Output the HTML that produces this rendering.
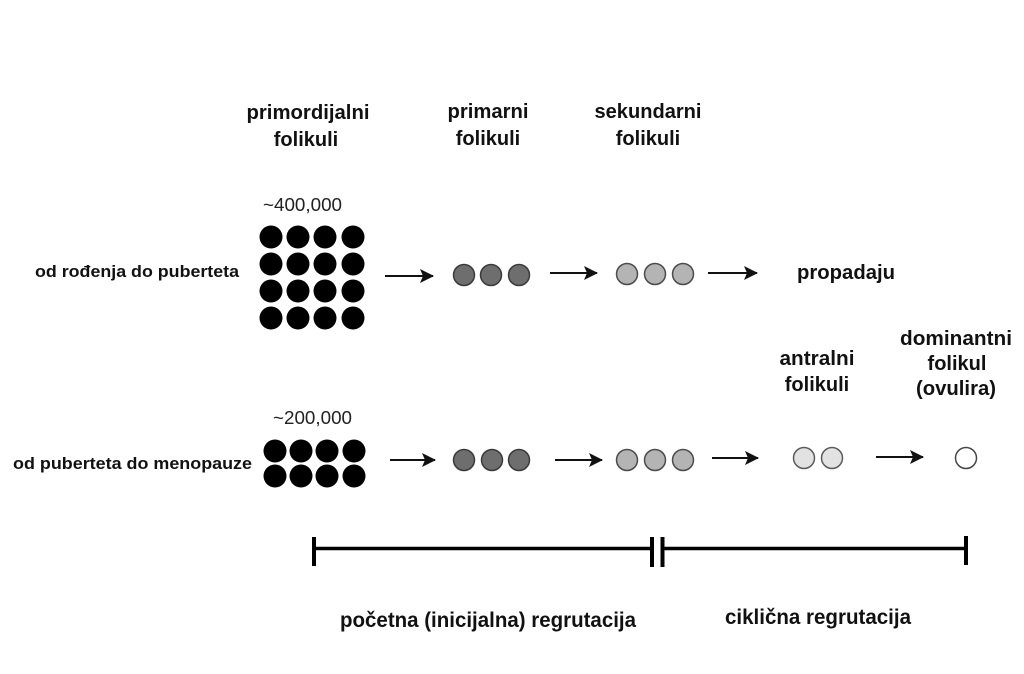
<!DOCTYPE html>
<html>
<head>
<meta charset="utf-8">
<style>
  html, body { margin: 0; padding: 0; background: #ffffff; }
  body { width: 1024px; height: 674px; overflow: hidden; }
  svg { display: block; }
  .b { font-family: "Liberation Sans", "DejaVu Sans", sans-serif; font-weight: 700; fill: #111; }
  .r { font-family: "Liberation Sans", "DejaVu Sans", sans-serif; font-weight: 400; fill: #222; }
</style>
</head>
<body>
<svg width="1024" height="674" viewBox="0 0 1024 674" xmlns="http://www.w3.org/2000/svg">
  <defs>
    <marker id="ah" viewBox="0 0 14 14" refX="13" refY="7" markerWidth="14" markerHeight="14" markerUnits="userSpaceOnUse" orient="auto">
      <path d="M0,0 L14,7 L0,14 L3,7 Z" fill="#111"/>
    </marker>
  </defs>

  <!-- top headings -->
  <text class="b" font-size="20" text-anchor="middle" x="308" y="119" textLength="123" lengthAdjust="spacingAndGlyphs">primordijalni</text>
  <text class="b" font-size="20" text-anchor="middle" x="306" y="146">folikuli</text>
  <text class="b" font-size="20" text-anchor="middle" x="488" y="118" textLength="81" lengthAdjust="spacingAndGlyphs">primarni</text>
  <text class="b" font-size="20" text-anchor="middle" x="488" y="145">folikuli</text>
  <text class="b" font-size="20" text-anchor="middle" x="648" y="118" textLength="107" lengthAdjust="spacingAndGlyphs">sekundarni</text>
  <text class="b" font-size="20" text-anchor="middle" x="648" y="145">folikuli</text>

  <!-- row 1 -->
  <text class="r" font-size="18" x="263" y="211" textLength="79" lengthAdjust="spacingAndGlyphs">~400,000</text>
  <text class="b" font-size="17" x="35" y="277" textLength="204" lengthAdjust="spacingAndGlyphs">od rođenja do puberteta</text>

  <g fill="#000">
    <circle cx="271" cy="237" r="11.5"/><circle cx="298" cy="237" r="11.5"/><circle cx="325" cy="237" r="11.5"/><circle cx="353" cy="237" r="11.5"/>
    <circle cx="271" cy="264" r="11.5"/><circle cx="298" cy="264" r="11.5"/><circle cx="325" cy="264" r="11.5"/><circle cx="353" cy="264" r="11.5"/>
    <circle cx="271" cy="291" r="11.5"/><circle cx="298" cy="291" r="11.5"/><circle cx="325" cy="291" r="11.5"/><circle cx="353" cy="291" r="11.5"/>
    <circle cx="271" cy="318" r="11.5"/><circle cx="298" cy="318" r="11.5"/><circle cx="325" cy="318" r="11.5"/><circle cx="353" cy="318" r="11.5"/>
  </g>

  <line x1="385" y1="276" x2="433" y2="276" stroke="#111" stroke-width="2" marker-end="url(#ah)"/>
  <g fill="#6e6e6e" stroke="#3a3a3a" stroke-width="1.5">
    <circle cx="464" cy="275" r="10.5"/><circle cx="491" cy="275" r="10.5"/><circle cx="519" cy="275" r="10.5"/>
  </g>
  <line x1="550" y1="273" x2="597" y2="273" stroke="#111" stroke-width="2" marker-end="url(#ah)"/>
  <g fill="#b4b4b4" stroke="#4a4a4a" stroke-width="1.5">
    <circle cx="627" cy="274" r="10.5"/><circle cx="655" cy="274" r="10.5"/><circle cx="683" cy="274" r="10.5"/>
  </g>
  <line x1="708" y1="273" x2="757" y2="273" stroke="#111" stroke-width="2" marker-end="url(#ah)"/>
  <text class="b" font-size="20" x="797" y="279" textLength="98" lengthAdjust="spacingAndGlyphs">propadaju</text>

  <!-- row 2 labels -->
  <text class="b" font-size="20" text-anchor="middle" x="817" y="365" textLength="75" lengthAdjust="spacingAndGlyphs">antralni</text>
  <text class="b" font-size="20" text-anchor="middle" x="817" y="391">folikuli</text>
  <text class="b" font-size="20" text-anchor="middle" x="956" y="345" textLength="112" lengthAdjust="spacingAndGlyphs">dominantni</text>
  <text class="b" font-size="20" text-anchor="middle" x="957" y="370">folikul</text>
  <text class="b" font-size="20" text-anchor="middle" x="956" y="395" textLength="80" lengthAdjust="spacingAndGlyphs">(ovulira)</text>

  <text class="r" font-size="18" x="273" y="424" textLength="79" lengthAdjust="spacingAndGlyphs">~200,000</text>
  <text class="b" font-size="17" x="13" y="469" textLength="239" lengthAdjust="spacingAndGlyphs">od puberteta do menopauze</text>

  <g fill="#000">
    <circle cx="275" cy="451" r="11.5"/><circle cx="301" cy="451" r="11.5"/><circle cx="327" cy="451" r="11.5"/><circle cx="354" cy="451" r="11.5"/>
    <circle cx="275" cy="476" r="11.5"/><circle cx="301" cy="476" r="11.5"/><circle cx="327" cy="476" r="11.5"/><circle cx="354" cy="476" r="11.5"/>
  </g>

  <line x1="390" y1="460" x2="435" y2="460" stroke="#111" stroke-width="2" marker-end="url(#ah)"/>
  <g fill="#6e6e6e" stroke="#3a3a3a" stroke-width="1.5">
    <circle cx="464" cy="460" r="10.5"/><circle cx="492" cy="460" r="10.5"/><circle cx="519" cy="460" r="10.5"/>
  </g>
  <line x1="555" y1="460" x2="602" y2="460" stroke="#111" stroke-width="2" marker-end="url(#ah)"/>
  <g fill="#b4b4b4" stroke="#4a4a4a" stroke-width="1.5">
    <circle cx="627" cy="460" r="10.5"/><circle cx="655" cy="460" r="10.5"/><circle cx="683" cy="460" r="10.5"/>
  </g>
  <line x1="712" y1="458" x2="758" y2="458" stroke="#111" stroke-width="2" marker-end="url(#ah)"/>
  <g fill="#e2e2e2" stroke="#5a5a5a" stroke-width="1.5">
    <circle cx="804" cy="458" r="10.5"/><circle cx="832" cy="458" r="10.5"/>
  </g>
  <line x1="876" y1="457" x2="923" y2="457" stroke="#111" stroke-width="2" marker-end="url(#ah)"/>
  <circle cx="966" cy="458" r="10.5" fill="#ffffff" stroke="#444" stroke-width="1.5"/>

  <!-- bottom bar -->
  <g stroke="#000" stroke-width="4">
    <line x1="314" y1="537" x2="314" y2="566"/>
    <line x1="652" y1="537" x2="652" y2="567"/>
    <line x1="662.5" y1="537" x2="662.5" y2="567"/>
    <line x1="966" y1="536" x2="966" y2="565"/>
  </g>
  <g stroke="#000" stroke-width="3.5">
    <line x1="314" y1="548.5" x2="652" y2="548.5"/>
    <line x1="662.5" y1="548.5" x2="966" y2="548.5"/>
  </g>

  <text class="b" font-size="21" x="340" y="627" textLength="296" lengthAdjust="spacingAndGlyphs">početna (inicijalna) regrutacija</text>
  <text class="b" font-size="21" x="725" y="624" textLength="186" lengthAdjust="spacingAndGlyphs">ciklična regrutacija</text>
</svg>
</body>
</html>
